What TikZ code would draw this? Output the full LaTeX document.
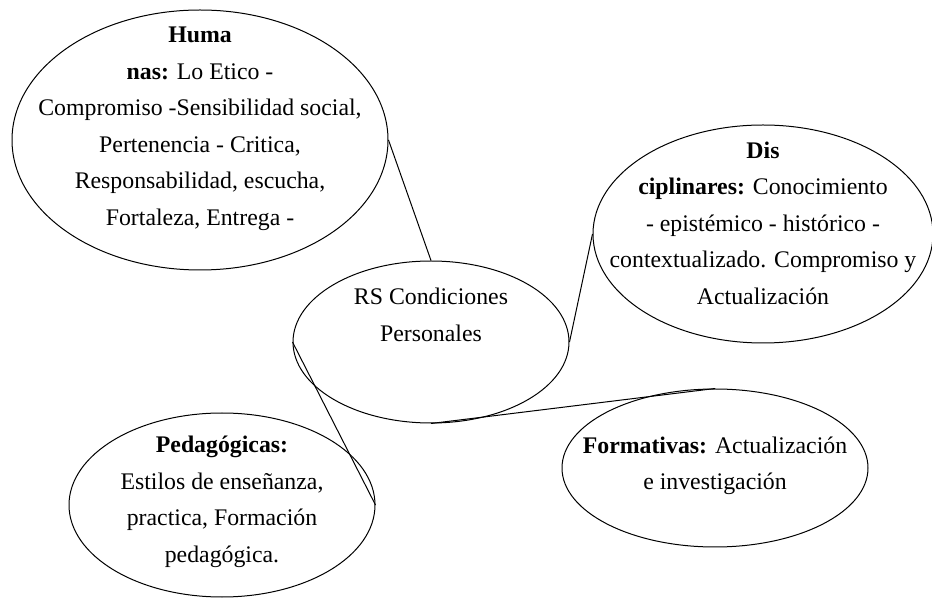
\documentclass[tikz,border=0pt]{standalone}
\usepackage{fontspec}
\setmainfont{Liberation Serif}
\usetikzlibrary{shapes.geometric}

\begin{document}
\begin{tikzpicture}[
            x=0.5pt, y=-0.5pt,
            bubble/.style={ellipse, draw, line width=0.5pt, inner sep=0pt},
            txt/.style={align=center, font=\fontsize{11.9}{18.25}\selectfont},
        ]
            \useasboundingbox (0,0) rectangle (932,598);
            \node[bubble, minimum width=188pt, minimum height=130pt] (hum) at (200,140) {};
            \node[bubble, minimum width=138pt, minimum height=81pt] (rs) at (431,342) {};
            \node[bubble, minimum width=170pt, minimum height=109pt] (disc) at (763,234) {};
            \node[bubble, minimum width=153pt, minimum height=79pt] (form) at (715,468) {};
            \node[bubble, minimum width=153pt, minimum height=92pt] (ped) at (222,505) {};
            \node[txt] (hum-txt) at (200,129) {\textbf{Huma}\\\textbf{nas:} Lo Etico -\\Compromiso -Sensibilidad social,\\Pertenencia - Critica,\\Responsabilidad, escucha,\\Fortaleza, Entrega -};
            \node[txt] (rs-txt) at (431,315) {RS Condiciones\\Personales};
            \node[txt] (disc-txt) at (763,223) {\textbf{Dis}\\\textbf{ciplinares:} Conocimiento\\- epistémico - histórico -\\contextualizado. Compromiso y\\Actualización};
            \node[txt] (form-txt) at (715,466) {\textbf{Formativas:} Actualización\\e investigación};
            \node[txt] (ped-txt) at (222,502) {\textbf{Pedagógicas:}\\Estilos de enseñanza,\\practica, Formación\\pedagógica.};
            \draw[line width=0.5pt] (hum.east) -- (rs.north);
            \draw[line width=0.5pt] (rs.east) -- (disc.west);
            \draw[line width=0.5pt] (rs.south) -- (form.north);
            \draw[line width=0.5pt] (rs.west) -- (ped.east);
        \end{tikzpicture}
\end{document}
